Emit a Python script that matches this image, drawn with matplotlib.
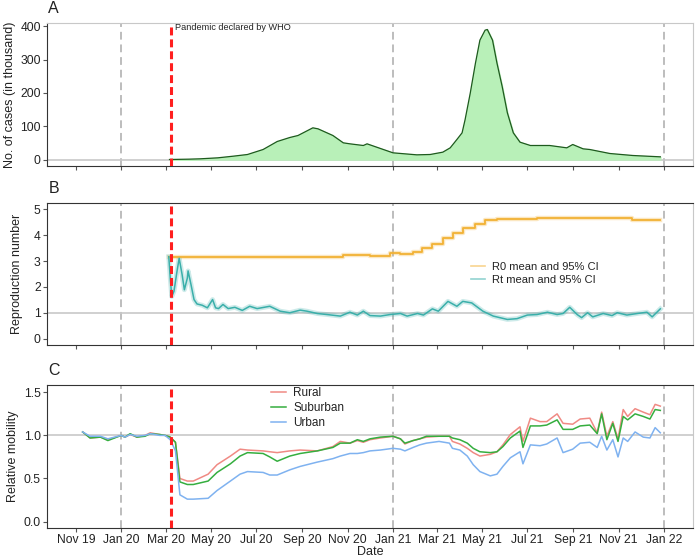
import numpy as np
import matplotlib
matplotlib.use("Agg")
import matplotlib.pyplot as plt
import matplotlib.dates as mdates

plt.rcParams['font.family'] = ['Liberation Sans', 'DejaVu Sans']

# ---------------- Data ----------------
case_dates = ["2020-03-06", "2020-04-01", "2020-04-16", "2020-05-10", "2020-05-31", "2020-06-19",
              "2020-07-10", "2020-07-29", "2020-08-15", "2020-08-26", "2020-09-15", "2020-09-22",
              "2020-09-29", "2020-10-12", "2020-10-26", "2020-11-04", "2020-11-22", "2020-11-27",
              "2020-12-19", "2021-01-01", "2021-02-02", "2021-02-20", "2021-03-09", "2021-03-19",
              "2021-03-28", "2021-04-04", "2021-04-08", "2021-04-15", "2021-04-22", "2021-04-28",
              "2021-05-05", "2021-05-08", "2021-05-15", "2021-05-21", "2021-05-28", "2021-06-04",
              "2021-06-12", "2021-06-21", "2021-07-05", "2021-07-22", "2021-07-31", "2021-08-23",
              "2021-08-31", "2021-09-14", "2021-09-23", "2021-10-20", "2021-11-20", "2021-12-27"]
cases_k = [0, 1, 2, 5, 10, 15,
           30, 54, 66, 72, 95, 92,
           85, 72, 50, 47, 42, 47,
           30, 20, 14, 15, 22, 35,
           60, 80, 119, 199, 289, 358,
           388, 390, 358, 289, 219, 140,
           80, 52, 42, 42, 42, 35,
           45, 32, 30, 18, 12, 8]

r0_dates = ["2020-03-05", "2020-10-26", "2020-12-01", "2020-12-15", "2020-12-28", "2021-01-11",
            "2021-01-28", "2021-02-09", "2021-02-23", "2021-03-09", "2021-03-23", "2021-04-05",
            "2021-04-22", "2021-05-05", "2021-05-21", "2021-07-14", "2021-11-12", "2021-11-19",
            "2021-12-27"]
r0_mean = [3.17, 3.22, 3.20, 3.18, 3.30, 3.27,
           3.36, 3.49, 3.66, 3.88, 4.07, 4.29,
           4.45, 4.58, 4.62, 4.65, 4.68, 4.59,
           4.61]

rt_dates = ["2020-03-05", "2020-03-07", "2020-03-09", "2020-03-12", "2020-03-16", "2020-03-19",
            "2020-03-23", "2020-03-26", "2020-03-30", "2020-03-31", "2020-04-04", "2020-04-08",
            "2020-04-12", "2020-04-19", "2020-04-26", "2020-05-03", "2020-05-07", "2020-05-11",
            "2020-05-17", "2020-05-24", "2020-06-02", "2020-06-12", "2020-06-22", "2020-07-02",
            "2020-07-19", "2020-08-02", "2020-08-15", "2020-08-29", "2020-09-07", "2020-09-21",
            "2020-10-04", "2020-10-22", "2020-11-04", "2020-11-14", "2020-11-22", "2020-12-01",
            "2020-12-15", "2020-12-28", "2021-01-11", "2021-01-20", "2021-02-03", "2021-02-11",
            "2021-02-23", "2021-03-03", "2021-03-16", "2021-03-28", "2021-04-05", "2021-04-17",
            "2021-05-02", "2021-05-16", "2021-06-04", "2021-06-17", "2021-07-01", "2021-07-14",
            "2021-07-28", "2021-08-10", "2021-08-18", "2021-08-27", "2021-09-06", "2021-09-12",
            "2021-09-20", "2021-09-27", "2021-10-11", "2021-10-23", "2021-10-30", "2021-11-12",
            "2021-11-26", "2021-12-09", "2021-12-16", "2021-12-27"]
rt_mean = [3.17, 2.34, 1.63, 1.83, 2.59, 3.11,
           2.47, 1.89, 2.34, 2.62, 2.08, 1.51,
           1.34, 1.29, 1.19, 1.51, 1.19, 1.16,
           1.32, 1.16, 1.21, 1.09, 1.25, 1.16,
           1.25, 1.06, 1.00, 1.10, 1.06, 0.97,
           0.93, 0.87, 1.02, 0.91, 1.06, 0.89,
           0.87, 0.93, 0.97, 0.87, 0.97, 0.91,
           1.15, 1.06, 1.44, 1.25, 1.44, 1.38,
           1.06, 0.87, 0.74, 0.77, 0.91, 0.93,
           1.02, 0.93, 0.97, 1.21, 0.93, 0.81,
           1.00, 0.84, 0.97, 0.89, 1.00, 0.91,
           0.97, 1.02, 0.84, 1.15]

mob_dates = ["2019-11-10", "2019-11-20", "2019-12-04", "2019-12-14", "2020-01-01", "2020-01-06",
             "2020-01-13", "2020-01-22", "2020-02-02", "2020-02-09", "2020-02-22", "2020-02-29",
             "2020-03-07", "2020-03-14", "2020-03-20", "2020-03-30", "2020-04-07", "2020-04-27",
             "2020-05-09", "2020-05-27", "2020-06-09", "2020-06-19", "2020-07-10", "2020-07-19",
             "2020-07-29", "2020-08-15", "2020-08-29", "2020-09-21", "2020-10-12", "2020-10-22",
             "2020-11-04", "2020-11-14", "2020-11-22", "2020-12-01", "2020-12-15", "2021-01-01",
             "2021-01-11", "2021-01-17", "2021-01-28", "2021-02-06", "2021-02-15", "2021-03-04",
             "2021-03-18", "2021-03-22", "2021-04-01", "2021-04-11", "2021-04-19", "2021-04-28",
             "2021-05-12", "2021-05-21", "2021-05-29", "2021-06-08", "2021-06-21", "2021-06-25",
             "2021-07-05", "2021-07-18", "2021-07-27", "2021-08-10", "2021-08-18", "2021-08-31",
             "2021-09-10", "2021-09-23", "2021-10-03", "2021-10-09", "2021-10-16", "2021-10-24",
             "2021-10-31", "2021-11-07", "2021-11-13", "2021-11-23", "2021-12-04", "2021-12-13",
             "2021-12-20", "2021-12-27"]
rural = [1.04, 0.97, 0.98, 0.95, 1.00, 0.98,
         1.01, 0.98, 1.00, 1.03, 1.01, 1.00,
         0.98, 0.92, 0.50, 0.47, 0.47, 0.55,
         0.66, 0.76, 0.84, 0.83, 0.82, 0.81,
         0.80, 0.82, 0.83, 0.82, 0.87, 0.93,
         0.91, 0.94, 0.92, 0.95, 0.97, 0.99,
         0.96, 0.90, 0.94, 0.96, 0.98, 0.99,
         0.99, 0.93, 0.90, 0.85, 0.80, 0.76,
         0.78, 0.81, 0.89, 1.01, 1.10, 0.93,
         1.20, 1.16, 1.16, 1.25, 1.14, 1.13,
         1.19, 1.20, 1.03, 1.27, 0.99, 1.16,
         0.96, 1.30, 1.22, 1.31, 1.27, 1.24,
         1.36, 1.34]
suburban = [1.04, 0.97, 0.98, 0.94, 1.00, 0.98,
            1.02, 0.98, 0.99, 1.02, 1.01, 1.00,
            0.98, 0.92, 0.46, 0.43, 0.43, 0.47,
            0.57, 0.67, 0.76, 0.80, 0.79, 0.75,
            0.70, 0.76, 0.79, 0.82, 0.86, 0.91,
            0.91, 0.95, 0.93, 0.96, 0.98, 0.99,
            0.96, 0.91, 0.94, 0.96, 0.99, 0.99,
            0.99, 0.97, 0.95, 0.91, 0.85, 0.81,
            0.80, 0.81, 0.87, 0.97, 1.05, 0.86,
            1.11, 1.11, 1.12, 1.18, 1.07, 1.07,
            1.11, 1.12, 1.02, 1.25, 0.95, 1.14,
            0.93, 1.22, 1.18, 1.25, 1.22, 1.19,
            1.30, 1.29]
urban = [1.04, 0.99, 0.99, 0.96, 1.00, 0.98,
         1.01, 0.99, 1.00, 1.02, 1.00, 1.00,
         0.95, 0.82, 0.31, 0.26, 0.26, 0.27,
         0.36, 0.47, 0.55, 0.58, 0.57, 0.54,
         0.54, 0.60, 0.64, 0.69, 0.73, 0.76,
         0.79, 0.79, 0.80, 0.82, 0.83, 0.85,
         0.84, 0.82, 0.86, 0.89, 0.91, 0.93,
         0.91, 0.85, 0.83, 0.76, 0.66, 0.58,
         0.53, 0.55, 0.64, 0.74, 0.81, 0.67,
         0.89, 0.88, 0.90, 0.97, 0.80, 0.84,
         0.91, 0.92, 0.86, 0.99, 0.83, 0.95,
         0.75, 0.97, 0.93, 1.04, 0.98, 0.97,
         1.09, 1.03]

year_lines = ["2020-01-01", "2021-01-01", "2022-01-01"]
who_date = "2020-03-08"
who_label = "Pandemic declared by WHO"

# ---------------- Figure ----------------
D = lambda lst: np.array(lst, dtype="datetime64[D]")

fig = plt.figure(figsize=(7, 5.6), dpi=100)
L, W = 47 / 700, 646 / 700
axA = fig.add_axes([L, 1 - 166 / 560, W, 143 / 560])
axB = fig.add_axes([L, 1 - 345 / 560, W, 142 / 560])
axC = fig.add_axes([L, 1 - 528 / 560, W, 143 / 560])

xmin, xmax = np.datetime64("2019-09-23"), np.datetime64("2022-02-09")
dark = "#333333"
light = "#C8C8C8"

for ax, lab in zip([axA, axB, axC], ["A", "B", "C"]):
    ax.set_xlim(xmin, xmax)
    ax.xaxis.set_major_locator(mdates.MonthLocator(bymonth=[1, 3, 5, 7, 9, 11]))
    ax.xaxis.set_major_formatter(mdates.DateFormatter("%b %y"))
    for d in D(year_lines):
        ax.axvline(d, color="#BDBDBD", lw=1.4, dashes=(4, 2.5), zorder=1)
    ax.axvline(np.datetime64(who_date), color="#FF1F1F", lw=2.2, dashes=(2.6, 1.3), zorder=5)
    ax.spines["left"].set_color(dark)
    ax.spines["bottom"].set_color(dark)
    ax.spines["right"].set_color(light)
    ax.spines["top"].set_color(dark if lab != "A" else light)
    ax.tick_params(axis="both", length=3, width=0.8, color="#555555", labelsize=8.7,
                   labelcolor="#222222", pad=1.5)
    ax.annotate(lab, xy=(0, 1), xycoords="axes fraction", xytext=(1, 5),
                textcoords="offset points", fontsize=11.5, color="#222222", va="bottom", ha="left")

# Panel A
axA.axhline(0, color=light, lw=1.2, zorder=1)
axA.fill_between(D(case_dates), cases_k, 0, color="#B8F0B8", zorder=2)
axA.plot(D(case_dates), cases_k, color="#1E5A1E", lw=0.9, zorder=3)
axA.set_ylim(-19.5, 409.5)
axA.set_yticks([0, 100, 200, 300, 400])
axA.set_ylabel("No. of cases (in thousand)", fontsize=9, color="#222222", labelpad=3)
axA.tick_params(axis="x", labelbottom=False)
axA.text(np.datetime64("2020-03-13"), 395, who_label, fontsize=6.6, color="#222222", va="center")

# Panel B
axB.axhline(1, color=light, lw=1.2, zorder=1)
c_r0, c_rt = "#F2B134", "#3AAFAA"
axB.plot(D(r0_dates), r0_mean, color=c_r0, lw=3.2, alpha=0.3, drawstyle="steps-post", zorder=2)
axB.plot(D(r0_dates), r0_mean, color=c_r0, lw=1.3, drawstyle="steps-post", zorder=3)
axB.plot(D(rt_dates), rt_mean, color=c_rt, lw=3.5, alpha=0.25, zorder=2)
axB.plot(D(rt_dates), rt_mean, color=c_rt, lw=1.1, zorder=3)
axB.set_ylim(-0.25, 5.25)
axB.set_yticks([0, 1, 2, 3, 4, 5])
axB.set_ylabel("Reproduction number", fontsize=9, color="#222222", labelpad=8)
axB.tick_params(axis="x", labelbottom=False)
hB = [plt.Line2D([], [], color=c_r0, lw=1.2, alpha=0.55),
      plt.Line2D([], [], color=c_rt, lw=1.2, alpha=0.55)]
fig.legend(hB, ["R0 mean and 95% CI", "Rt mean and 95% CI"], loc="upper left",
           bbox_to_anchor=(471 / 700, 1 - 262 / 560), frameon=False, fontsize=8,
           handlelength=1.3, handletextpad=0.6, borderpad=0, borderaxespad=0, labelspacing=0.3,
           labelcolor="#222222")

# Panel C
axC.axhline(1, color=light, lw=1.2, zorder=1)
c_ru, c_su, c_ur = "#F08A84", "#35AE3F", "#7FB2F0"
axC.plot(D(mob_dates), rural, color=c_ru, lw=1.1, zorder=3)
axC.plot(D(mob_dates), suburban, color=c_su, lw=1.1, zorder=3)
axC.plot(D(mob_dates), urban, color=c_ur, lw=1.1, zorder=3)
axC.set_ylim(-0.075, 1.585)
axC.set_yticks([0.0, 0.5, 1.0, 1.5])
axC.set_yticklabels(["0.0", "0.5", "1.0", "1.5"])
axC.set_ylabel("Relative mobility", fontsize=9, color="#222222", labelpad=3)
axC.set_xlabel("Date", fontsize=9, color="#222222", labelpad=0)
hC = [plt.Line2D([], [], color=c, lw=1.1) for c in (c_ru, c_su, c_ur)]
fig.legend(hC, ["Rural", "Suburban", "Urban"], loc="upper left",
           bbox_to_anchor=(271 / 700, 1 - 387 / 560), frameon=False, fontsize=8.5,
           handlelength=1.3, handletextpad=0.6, borderpad=0, borderaxespad=0, labelspacing=0.25,
           labelcolor="#222222")

fig.savefig("out.png", dpi=100)
